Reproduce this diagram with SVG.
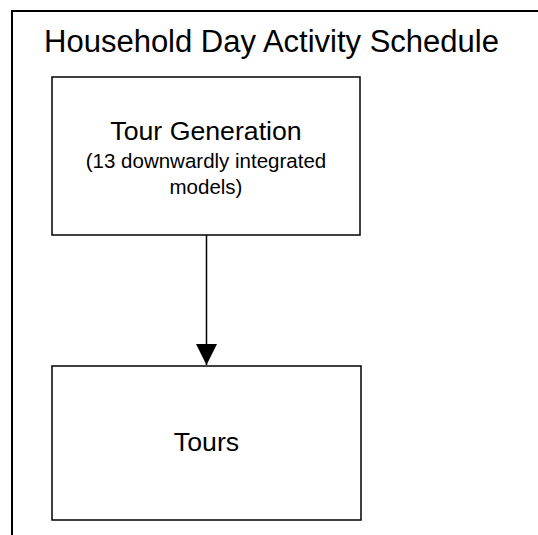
<svg xmlns="http://www.w3.org/2000/svg" width="538" height="535" viewBox="0 0 538 535">
  <style>
    .box { fill: #ffffff; stroke: #000000; stroke-width: 1.5; }
    .frame { fill: none; stroke: #000000; stroke-width: 2; }
    .lbl { font-family: "Liberation Sans", Arial, sans-serif; fill: #000000; text-anchor: middle; }
    .edge { stroke: #000000; stroke-width: 1.5; fill: none; }
  </style>
  <defs>
    <marker id="arrow" markerUnits="userSpaceOnUse" markerWidth="22" markerHeight="22" viewBox="0 0 22 22" refX="21" refY="11" orient="auto">
      <polygon points="0,0.5 21,11 0,21.5" fill="#000000"/>
    </marker>
  </defs>
  <rect width="538" height="535" fill="#ffffff"/>

  <!-- outer container: Household Day Activity Schedule (runs past the right and bottom edges) -->
  <g id="household-day">
    <path class="frame" d="M12,545 V11 H548"/>
    <text class="lbl" x="271.5" y="52" font-size="31">Household Day Activity Schedule</text>
  </g>

  <g id="tour-generation">
    <rect class="box" x="52" y="77" width="308" height="158"/>
    <text class="lbl" x="206" y="140" font-size="26.7">Tour Generation</text>
    <text class="lbl" x="206" y="168" font-size="20.5">(13 downwardly integrated</text>
    <text class="lbl" x="206" y="194" font-size="20.5">models)</text>
  </g>

  <g id="tours">
    <rect class="box" x="52" y="366" width="309" height="154"/>
    <text class="lbl" x="206.5" y="451" font-size="26.7">Tours</text>
  </g>

  <g id="connectors">
    <line class="edge" x1="206.5" y1="235" x2="206.5" y2="365" marker-end="url(#arrow)"/>
  </g>
</svg>
